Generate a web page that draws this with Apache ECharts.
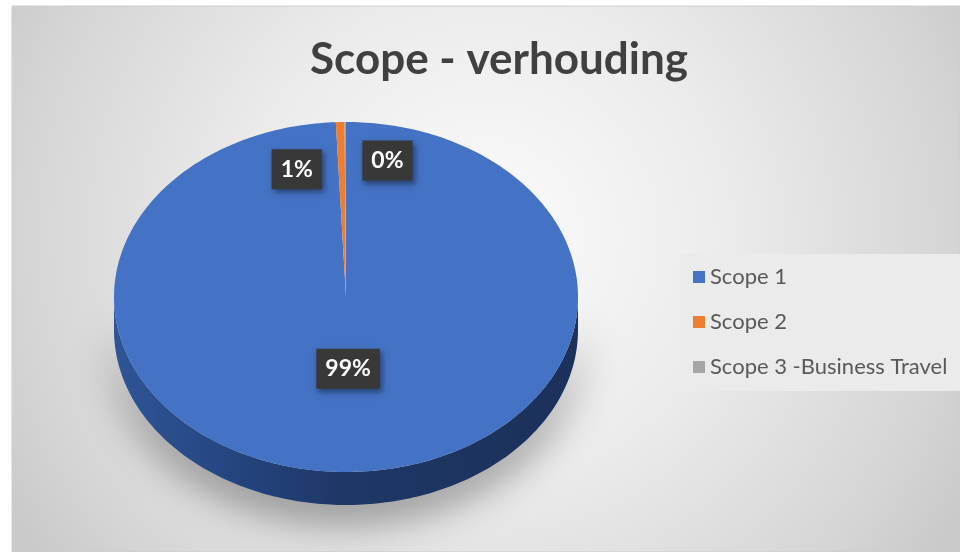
<!DOCTYPE html>
<html>
<head>
<meta charset="utf-8">
<script src="https://cdn.jsdelivr.net/npm/echarts@6/dist/echarts.min.js"></script>
<style>
  html, body { margin: 0; padding: 0; background: #fff; }
  #main { width: 960px; height: 552px; }
</style>
</head>
<body>
<div id="main"></div>
<script>
// data
var categories = ['Scope 1', 'Scope 2', 'Scope 3 -Business Travel'];
var values = [99.3, 0.6, 0.1];
var colors = ['#4472C4', '#ED7D31', '#A5A5A5'];
// label placement: radius fraction and sideways nudge (Excel best-fit look)
var labelRadius = [0.41, 0.73, 0.78];
var labelShift = [0, -45, 42];

var total = values.reduce(function (a, b) { return a + b; }, 0);

// pie geometry (3d look: ellipse + side wall)
var cx = 346, cy = 297, rx = 232, ry = 175, depth = 33;

function pt(deg, dy) {
  var a = deg * Math.PI / 180;
  return [cx + rx * Math.sin(a), cy - ry * Math.cos(a) + (dy || 0)];
}

function arc(a0, a1, dy) {
  var pts = [];
  var n = Math.max(2, Math.ceil(Math.abs(a1 - a0)));
  for (var i = 0; i <= n; i++) {
    pts.push(pt(a0 + (a1 - a0) * i / n, dy));
  }
  return pts;
}

function makeRender(idx) {
  return function (params, api) {
    var before = 0;
    for (var k = 0; k < idx; k++) before += values[k];
    var a0 = before / total * 360;
    var a1 = (before + api.value(0)) / total * 360;
    var children = [];

    // front side wall (visible between 90 and 270 deg)
    var s = Math.max(a0, 90), e = Math.min(a1, 270);
    if (e > s) {
      var top = arc(s, e, 0);
      var bot = arc(e, s, depth);
      children.push({
        type: 'polygon',
        z2: 1,
        shape: { points: top.concat(bot) },
        style: {
          fill: idx === 0 ? new echarts.graphic.LinearGradient(0, 0, 1, 0, [
            { offset: 0, color: '#2F5597' },
            { offset: 0.3, color: '#23427C' },
            { offset: 0.5, color: '#1E3765' },
            { offset: 1, color: '#1B315B' }
          ]) : echarts.color.lift(colors[idx], -0.45),
          shadowBlur: 40,
          shadowOffsetY: 14,
          shadowColor: 'rgba(0,0,0,0.45)'
        }
      });
    }

    // top face
    children.push({
      type: 'polygon',
      z2: 5,
      shape: { points: [[cx, cy]].concat(arc(a0, a1, 0)) },
      style: { fill: colors[idx] }
    });

    // percent label
    var mid = (a0 + a1) / 2;
    var lp = [cx + rx * labelRadius[idx] * Math.sin(mid * Math.PI / 180) + labelShift[idx],
              cy - ry * labelRadius[idx] * Math.cos(mid * Math.PI / 180)];
    children.push({
      type: 'text',
      z2: 10,
      x: lp[0],
      y: lp[1],
      style: {
        text: Math.round(api.value(0) / total * 100) + '%',
        fill: '#ffffff',
        font: 'bold 23px Lato, sans-serif',
        align: 'center',
        verticalAlign: 'middle',
        backgroundColor: '#383838',
        padding: [9, 9, 8, 9],
        shadowBlur: 6,
        shadowOffsetX: 2,
        shadowOffsetY: 3,
        shadowColor: 'rgba(0,0,0,0.45)'
      }
    });

    return { type: 'group', children: children };
  };
}

var series = categories.map(function (name, i) {
  return {
    name: name,
    type: 'custom',
    coordinateSystem: 'none',
    itemStyle: { color: colors[i] },
    data: [[values[i]]],
    renderItem: makeRender(i)
  };
});

var chart = echarts.init(document.getElementById('main'));
chart.setOption({
  animation: false,
  graphic: [{
    type: 'rect',
    z: -10,
    shape: { x: 12, y: 6, width: 948, height: 546 },
    style: {
      fill: new echarts.graphic.RadialGradient(0.5, 0.42, 1.0, [
        { offset: 0, color: '#fbfbfb' },
        { offset: 0.45, color: '#ebebeb' },
        { offset: 0.85, color: '#d5d5d5' },
        { offset: 1, color: '#cacaca' }
      ]),
      stroke: '#cdcdcd',
      lineWidth: 1
    }
  }],
  title: {
    text: 'Scope - verhouding',
    left: 494,
    textAlign: 'center',
    top: 33,
    textStyle: {
      fontFamily: 'Lato, sans-serif',
      fontWeight: 'bold',
      fontSize: 44,
      color: '#404040'
    }
  },
  legend: {
    orient: 'vertical',
    left: 680,
    top: 254,
    icon: 'rect',
    itemWidth: 12,
    itemHeight: 12,
    itemGap: 23,
    padding: [12, 14, 13, 13],
    backgroundColor: '#ebebeb',
    textStyle: {
      fontFamily: 'Lato, sans-serif',
      fontSize: 22,
      color: '#595959'
    },
    data: categories
  },
  series: series
});
</script>
</body>
</html>
